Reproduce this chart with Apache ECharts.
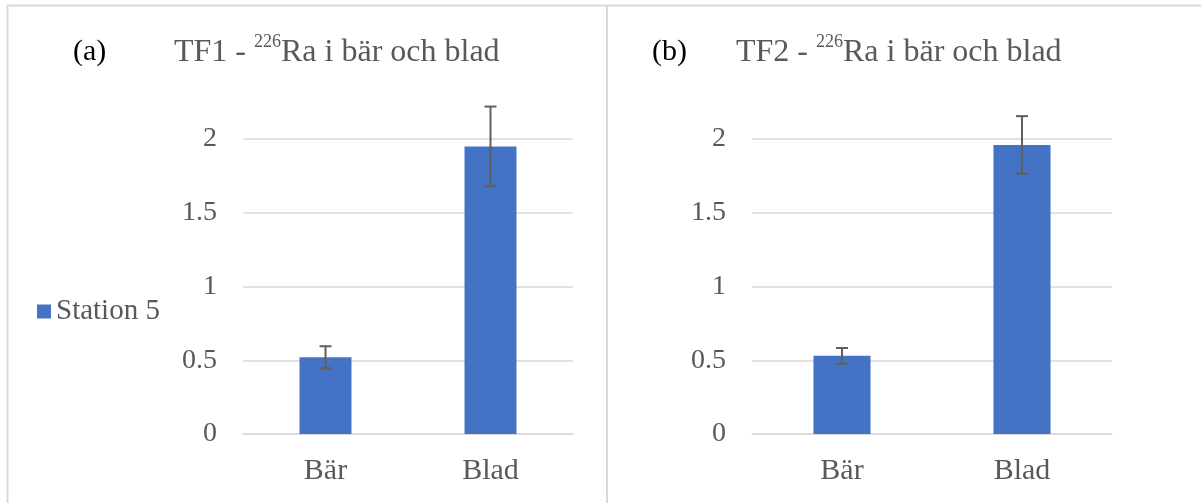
<!DOCTYPE html>
<html>
<head>
<meta charset="utf-8">
<script src="https://cdn.jsdelivr.net/npm/echarts@6/dist/echarts.min.js"></script>
<style>
  html, body { margin: 0; padding: 0; background: #ffffff; }
  #chart { width: 1201px; height: 503px; }
</style>
</head>
<body>
<div id="chart"></div>
<script>
// Categories and values for the two panels
const categories = ['Bär', 'Blad'];
const seriesName = 'Station 5';
const tf1Values = [0.52, 1.95];
const tf1Errors = [0.075, 0.27];
const tf2Values = [0.53, 1.96];
const tf2Errors = [0.053, 0.195];
const yTicks = { min: 0, max: 2, interval: 0.5 };

const FONT = 'Liberation Serif';
const TEXT = '#595959';
const GRID = '#d9d9d9';
const BAR = '#4472C4';

function errorData(values, errs) {
  return values.map((v, i) => [i, v - errs[i], v + errs[i]]);
}

// Vertical whisker with caps, drawn from the axis scales
function renderError(params, api) {
  const i = api.value(0);
  const lo = api.coord([i, api.value(1)]);
  const hi = api.coord([i, api.value(2)]);
  const cap = 6;
  const style = { stroke: '#5f5f5f', lineWidth: 2 };
  return {
    type: 'group',
    children: [
      { type: 'line', shape: { x1: hi[0], y1: hi[1], x2: lo[0], y2: lo[1] }, style },
      { type: 'line', shape: { x1: hi[0] - cap, y1: hi[1], x2: hi[0] + cap, y2: hi[1] }, style },
      { type: 'line', shape: { x1: lo[0] - cap, y1: lo[1], x2: lo[0] + cap, y2: lo[1] }, style }
    ]
  };
}

function titleRich(label) {
  return {
    text: '{t|' + label + ' - }{s|226}{t|Ra i bär och blad}',
    textStyle: {
      fontWeight: 'normal',
      rich: {
        t: { fontFamily: FONT, fontSize: 32, fontWeight: 'normal', color: TEXT, lineHeight: 36, verticalAlign: 'bottom' },
        s: { fontFamily: FONT, fontSize: 18, fontWeight: 'normal', color: TEXT, lineHeight: 36, verticalAlign: 'top', padding: [0, 0, 14, 0] }
      }
    }
  };
}

const xAxisCommon = {
  type: 'category',
  data: categories,
  axisLine: { show: true, lineStyle: { color: GRID, width: 1.5 } },
  axisTick: { show: false },
  axisLabel: { fontFamily: FONT, fontSize: 30, color: TEXT, margin: 22 }
};
const yAxisCommon = {
  type: 'value',
  min: yTicks.min,
  max: yTicks.max,
  interval: yTicks.interval,
  axisLine: { show: false },
  axisTick: { show: false },
  splitLine: { lineStyle: { color: GRID, width: 1.5 } },
  axisLabel: { fontFamily: FONT, fontSize: 28, color: TEXT, margin: 26 }
};

const chart = echarts.init(document.getElementById('chart'), null, { renderer: 'canvas' });
chart.setOption({
  animation: false,
  backgroundColor: '#ffffff',
  title: [
    { text: '(a)', left: 68, top: 32, textStyle: { fontFamily: FONT, fontSize: 30, color: '#000000', fontWeight: 'normal' } },
    Object.assign({ left: 169, top: 28 }, titleRich('TF1')),
    { text: '(b)', left: 647, top: 32, textStyle: { fontFamily: FONT, fontSize: 30, color: '#000000', fontWeight: 'normal' } },
    Object.assign({ left: 731, top: 28 }, titleRich('TF2'))
  ],
  legend: {
    data: [seriesName],
    left: 32,
    top: 292,
    icon: 'rect',
    itemWidth: 14,
    itemHeight: 14,
    itemGap: 7,
    formatter: '{s|{name}}',
    textStyle: {
      fontFamily: FONT, fontSize: 29, color: TEXT,
      rich: { s: { fontFamily: FONT, fontSize: 29, color: TEXT } }
    }
  },
  grid: [
    { left: 243, right: 628, top: 139, bottom: 69 },
    { left: 752, right: 89, top: 139, bottom: 69 }
  ],
  xAxis: [
    Object.assign({ gridIndex: 0 }, xAxisCommon),
    Object.assign({ gridIndex: 1 }, xAxisCommon)
  ],
  yAxis: [
    Object.assign({ gridIndex: 0 }, yAxisCommon),
    Object.assign({ gridIndex: 1 }, yAxisCommon)
  ],
  graphic: [
    { type: 'line', shape: { x1: 7, y1: 5.5, x2: 1201, y2: 5.5 }, style: { stroke: GRID, lineWidth: 2 } },
    { type: 'line', shape: { x1: 7.5, y1: 5, x2: 7.5, y2: 503 }, style: { stroke: GRID, lineWidth: 2 } },
    { type: 'line', shape: { x1: 607, y1: 5, x2: 607, y2: 503 }, style: { stroke: GRID, lineWidth: 2 } }
  ],
  series: [
    { name: seriesName, type: 'bar', xAxisIndex: 0, yAxisIndex: 0, data: tf1Values, barWidth: '31.5%', itemStyle: { color: BAR } },
    { name: seriesName, type: 'bar', xAxisIndex: 1, yAxisIndex: 1, data: tf2Values, barWidth: '31.7%', itemStyle: { color: BAR } },
    { type: 'custom', xAxisIndex: 0, yAxisIndex: 0, clip: false, z: 5, renderItem: renderError, data: errorData(tf1Values, tf1Errors) },
    { type: 'custom', xAxisIndex: 1, yAxisIndex: 1, clip: false, z: 5, renderItem: renderError, data: errorData(tf2Values, tf2Errors) }
  ]
});
</script>
</body>
</html>
